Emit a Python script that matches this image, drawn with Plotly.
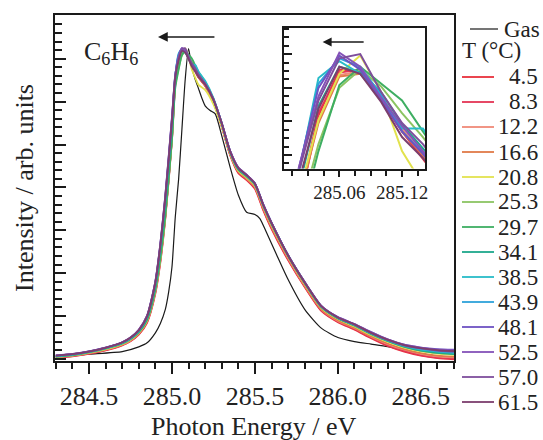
import plotly.graph_objects as go

# ---------------- data ----------------
energy_liquid = [284.30, 284.40, 284.50, 284.60, 284.70, 284.75, 284.80, 284.85, 284.90, 284.93,
                 284.96, 285.00, 285.02, 285.04, 285.06, 285.08, 285.10, 285.12, 285.14, 285.16,
                 285.20, 285.25, 285.30, 285.35, 285.40, 285.45, 285.50, 285.55, 285.60, 285.70,
                 285.80, 285.90, 286.00, 286.10, 286.20, 286.30, 286.40, 286.50, 286.60, 286.70]

energy_gas = [284.30, 284.50, 284.70, 284.80, 284.85, 284.90, 284.93, 284.96, 284.98, 285.00,
              285.02, 285.04, 285.06, 285.08, 285.10, 285.12, 285.14, 285.16, 285.18, 285.20,
              285.23, 285.26, 285.30, 285.35, 285.40, 285.45, 285.50, 285.53, 285.57, 285.63,
              285.70, 285.80, 285.90, 286.00, 286.10, 286.20, 286.30, 286.40, 286.50, 286.60, 286.70]
intensity_gas = [0.014, 0.022, 0.030, 0.045, 0.058, 0.090, 0.120, 0.165, 0.220, 0.300,
                 0.460, 0.580, 0.740, 0.900, 0.998, 0.935, 0.900, 0.870, 0.840, 0.815,
                 0.800, 0.790, 0.720, 0.620, 0.530, 0.475, 0.468, 0.455, 0.410, 0.340,
                 0.260, 0.165, 0.105, 0.075, 0.062, 0.054, 0.046, 0.036, 0.024, 0.016, 0.013]

temperatures = ["4.5", "8.3", "12.2", "16.6", "20.8", "25.3", "29.7",
                "34.1", "38.5", "43.9", "48.1", "52.5", "57.0", "61.5"]
colors = ["#e8303c", "#e43454", "#f08a78", "#e07a48", "#e2e24e", "#8cc462", "#3eae62",
          "#1ea88c", "#28bcc8", "#2ea2da", "#6e52c2", "#8452b8", "#7e4e9c", "#7c3e6e"]

i_4_5 = [0.010, 0.015, 0.023, 0.034, 0.050, 0.063, 0.084, 0.122, 0.215, 0.315, 0.455, 0.705,
         0.885, 0.955, 0.988, 0.986, 0.966, 0.944, 0.925, 0.905,
         0.878, 0.826, 0.748, 0.658, 0.600, 0.578, 0.550, 0.482, 0.422, 0.322,
         0.236, 0.160, 0.124, 0.100, 0.073, 0.048, 0.030, 0.017, 0.009, 0.005]
i_8_3 = [0.011, 0.016, 0.024, 0.035, 0.051, 0.064, 0.086, 0.125, 0.220, 0.320, 0.460, 0.710,
         0.888, 0.957, 0.986, 0.988, 0.968, 0.944, 0.926, 0.906,
         0.880, 0.828, 0.750, 0.660, 0.603, 0.580, 0.553, 0.485, 0.425, 0.325,
         0.238, 0.162, 0.126, 0.102, 0.075, 0.050, 0.032, 0.019, 0.011, 0.008]
i_12_2 = [0.012, 0.017, 0.025, 0.036, 0.052, 0.065, 0.087, 0.127, 0.222, 0.322, 0.462, 0.712,
          0.890, 0.952, 0.984, 0.987, 0.970, 0.946, 0.928, 0.908,
          0.881, 0.830, 0.752, 0.662, 0.605, 0.582, 0.556, 0.488, 0.428, 0.328,
          0.240, 0.165, 0.128, 0.105, 0.078, 0.054, 0.036, 0.023, 0.015, 0.012]
i_16_6 = [0.012, 0.017, 0.026, 0.037, 0.053, 0.066, 0.088, 0.128, 0.225, 0.325, 0.465, 0.715,
          0.892, 0.950, 0.983, 0.985, 0.968, 0.944, 0.927, 0.907,
          0.880, 0.829, 0.752, 0.663, 0.606, 0.583, 0.557, 0.490, 0.430, 0.330,
          0.242, 0.166, 0.130, 0.106, 0.079, 0.056, 0.038, 0.025, 0.017, 0.014]
i_20_8 = [0.013, 0.018, 0.027, 0.038, 0.054, 0.068, 0.090, 0.130, 0.228, 0.330, 0.470, 0.720,
          0.895, 0.952, 0.985, 0.998, 0.972, 0.930, 0.905, 0.882,
          0.866, 0.820, 0.750, 0.664, 0.608, 0.586, 0.560, 0.494, 0.434, 0.333,
          0.246, 0.170, 0.134, 0.110, 0.083, 0.061, 0.043, 0.031, 0.024, 0.020]
i_25_3 = [0.013, 0.018, 0.027, 0.039, 0.055, 0.069, 0.091, 0.130, 0.225, 0.325, 0.463, 0.710,
          0.880, 0.935, 0.975, 0.988, 0.976, 0.957, 0.940, 0.920,
          0.890, 0.835, 0.757, 0.667, 0.610, 0.588, 0.562, 0.496, 0.437, 0.335,
          0.248, 0.172, 0.136, 0.112, 0.085, 0.063, 0.045, 0.033, 0.026, 0.022]
i_29_7 = [0.014, 0.019, 0.028, 0.040, 0.056, 0.070, 0.092, 0.132, 0.228, 0.330, 0.465, 0.705,
          0.872, 0.930, 0.977, 0.990, 0.978, 0.966, 0.944, 0.922,
          0.892, 0.837, 0.758, 0.668, 0.612, 0.590, 0.564, 0.497, 0.438, 0.336,
          0.250, 0.173, 0.137, 0.114, 0.087, 0.065, 0.047, 0.035, 0.028, 0.024]
i_34_1 = [0.015, 0.020, 0.029, 0.041, 0.057, 0.071, 0.094, 0.136, 0.240, 0.352, 0.500, 0.745,
          0.900, 0.962, 0.990, 0.986, 0.972, 0.949, 0.932, 0.913,
          0.888, 0.836, 0.758, 0.668, 0.613, 0.591, 0.565, 0.498, 0.440, 0.337,
          0.250, 0.173, 0.137, 0.114, 0.087, 0.064, 0.046, 0.033, 0.026, 0.022]
i_38_5 = [0.015, 0.021, 0.029, 0.041, 0.058, 0.072, 0.096, 0.140, 0.248, 0.365, 0.515, 0.765,
          0.910, 0.982, 0.994, 0.985, 0.968, 0.946, 0.946, 0.925,
          0.895, 0.840, 0.760, 0.670, 0.615, 0.592, 0.566, 0.499, 0.441, 0.338,
          0.251, 0.174, 0.138, 0.115, 0.088, 0.066, 0.048, 0.036, 0.030, 0.026]
i_43_9 = [0.016, 0.021, 0.030, 0.042, 0.059, 0.073, 0.097, 0.142, 0.250, 0.368, 0.520, 0.770,
          0.912, 0.978, 0.996, 0.990, 0.970, 0.944, 0.929, 0.911,
          0.886, 0.836, 0.760, 0.671, 0.616, 0.593, 0.567, 0.500, 0.442, 0.338,
          0.252, 0.175, 0.139, 0.116, 0.089, 0.067, 0.050, 0.039, 0.032, 0.028]
i_48_1 = [0.017, 0.022, 0.031, 0.043, 0.060, 0.074, 0.099, 0.144, 0.253, 0.372, 0.525, 0.775,
          0.914, 0.975, 0.998, 0.988, 0.966, 0.944, 0.928, 0.910,
          0.884, 0.835, 0.760, 0.672, 0.618, 0.595, 0.568, 0.500, 0.442, 0.338,
          0.252, 0.176, 0.140, 0.118, 0.092, 0.069, 0.052, 0.043, 0.038, 0.036]
i_52_5 = [0.018, 0.023, 0.031, 0.043, 0.060, 0.075, 0.100, 0.145, 0.255, 0.375, 0.530, 0.780,
          0.915, 0.969, 1.000, 0.990, 0.968, 0.948, 0.930, 0.912,
          0.885, 0.835, 0.760, 0.672, 0.618, 0.595, 0.568, 0.500, 0.442, 0.338,
          0.252, 0.176, 0.140, 0.118, 0.092, 0.069, 0.052, 0.043, 0.036, 0.034]
i_57_0 = [0.017, 0.022, 0.031, 0.043, 0.060, 0.075, 0.100, 0.145, 0.254, 0.374, 0.528, 0.775,
          0.912, 0.966, 0.996, 0.999, 0.972, 0.950, 0.935, 0.915,
          0.886, 0.836, 0.760, 0.671, 0.617, 0.594, 0.567, 0.500, 0.441, 0.337,
          0.251, 0.175, 0.139, 0.116, 0.090, 0.067, 0.050, 0.040, 0.033, 0.030]
i_61_5 = [0.017, 0.022, 0.030, 0.042, 0.059, 0.074, 0.098, 0.142, 0.250, 0.368, 0.520, 0.765,
          0.905, 0.960, 0.990, 0.985, 0.965, 0.940, 0.925, 0.908,
          0.883, 0.834, 0.759, 0.670, 0.616, 0.593, 0.566, 0.499, 0.440, 0.337,
          0.251, 0.175, 0.139, 0.117, 0.090, 0.068, 0.051, 0.041, 0.035, 0.032]

liquid_series = [i_4_5, i_8_3, i_12_2, i_16_6, i_20_8, i_25_3, i_29_7,
                 i_34_1, i_38_5, i_43_9, i_48_1, i_52_5, i_57_0, i_61_5]

main_x_ticks = [284.5, 285.0, 285.5, 286.0, 286.5]
inset_x_ticks = [285.06, 285.12]

# ---------------- layout helpers ----------------
W, H = 543, 440
L, R, T, B = 55, 454, 15, 361          # plot area in pixels
FONT = "Liberation Serif"
TXT = "#222222"
LEG = 23                                # legend font size


def px_x(p):
    return (p - L) / (R - L)


def px_y(p):
    return (B - p) / (B - T)


fig = go.Figure()

# main traces
fig.add_trace(go.Scatter(x=energy_gas, y=intensity_gas, mode="lines",
                         line=dict(color="#1a1a1a", width=1.2, shape="spline", smoothing=0.6),
                         showlegend=False, hoverinfo="skip"))
for vals, col in zip(liquid_series, colors):
    fig.add_trace(go.Scatter(x=energy_liquid, y=vals, mode="lines",
                             line=dict(color=col, width=1.8, shape="spline", smoothing=0.6),
                             showlegend=False, hoverinfo="skip"))
# inset traces
for vals, col in zip(liquid_series, colors):
    fig.add_trace(go.Scatter(x=energy_liquid, y=vals, mode="lines", xaxis="x2", yaxis="y2",
                             line=dict(color=col, width=2.0),
                             showlegend=False, hoverinfo="skip"))

axis_common = dict(showgrid=False, zeroline=False, showline=True, linecolor="#1a1a1a",
                   linewidth=2, mirror=True)

y_major = 0.1369
y_tick0 = 0.0069
ins_top, ins_bot = 1.0176, 0.9176

fig.update_layout(
    width=W, height=H,
    margin=dict(l=L, r=W - R, t=T, b=H - B, pad=0),
    paper_bgcolor="white", plot_bgcolor="white",
    font=dict(family=FONT, size=26, color=TXT),
    showlegend=False,
    xaxis=dict(domain=[0, 1], range=[284.295, 286.70], **axis_common,
               tickmode="array", tickvals=main_x_ticks,
               ticktext=[f"{v:.1f}" for v in main_x_ticks],
               ticks="outside", ticklen=11, tickwidth=2, tickcolor="#1a1a1a",
               tickfont=dict(family=FONT, size=26, color=TXT),
               minor=dict(dtick=0.1, tick0=284.3, ticks="outside", ticklen=6,
                          tickwidth=1.6, tickcolor="#1a1a1a")),
    yaxis=dict(domain=[0, 1], range=[0, 1.105], **axis_common,
               showticklabels=False, tickmode="linear", tick0=y_tick0, dtick=y_major,
               ticks="inside", ticklen=11, tickwidth=2, tickcolor="#1a1a1a",
               minor=dict(dtick=y_major / 5, tick0=y_tick0, ticks="inside", ticklen=7,
                          tickwidth=1.6, tickcolor="#1a1a1a")),
    xaxis2=dict(domain=[px_x(284), px_x(425)], range=[285.007, 285.142], anchor="y2",
                **axis_common,
                tickmode="array", tickvals=inset_x_ticks,
                ticktext=[f"{v:.2f}" for v in inset_x_ticks],
                ticks="outside", ticklen=6, tickwidth=2, tickcolor="#1a1a1a",
                tickfont=dict(family=FONT, size=19, color=TXT),
                minor=dict(dtick=0.015, tick0=285.015, ticks="outside", ticklen=5,
                           tickwidth=1.6, tickcolor="#1a1a1a")),
    yaxis2=dict(domain=[px_y(168.5), px_y(28)], range=[ins_bot, ins_top], anchor="x2",
                **axis_common, showticklabels=False,
                tickmode="linear", tick0=0.9272, dtick=0.0239,
                ticks="inside", ticklen=8, tickwidth=2, tickcolor="#1a1a1a",
                minor=dict(dtick=0.0239 / 4, tick0=0.9272, ticks="inside", ticklen=5,
                           tickwidth=1.6, tickcolor="#1a1a1a")),
)

annotations = []
shapes = []

# axis titles
annotations.append(dict(text="Photon Energy / eV", xref="paper", yref="paper",
                        x=px_x(254), y=px_y(426), xanchor="center", yanchor="middle",
                        showarrow=False, font=dict(family=FONT, size=26, color=TXT)))
annotations.append(dict(text="Intensity / arb. units", xref="paper", yref="paper",
                        x=px_x(24), y=px_y(188), xanchor="center", yanchor="middle",
                        textangle=-90, showarrow=False,
                        font=dict(family=FONT, size=26, color=TXT)))
# molecule label
annotations.append(dict(text="C<sub>6</sub>H<sub>6</sub>", xref="paper", yref="paper",
                        x=px_x(82), y=px_y(53), xanchor="left", yanchor="middle",
                        showarrow=False, font=dict(family=FONT, size=26, color=TXT)))
# arrows
annotations.append(dict(x=284.916, y=1.035, ax=285.265, ay=1.035, xref="x", yref="y",
                        axref="x", ayref="y", text="", showarrow=True, arrowhead=2,
                        arrowsize=1.3, arrowwidth=1.5, arrowcolor="#1a1a1a", standoff=0))
annotations.append(dict(x=285.044, y=1.0076, ax=285.0847, ay=1.0076, xref="x2", yref="y2",
                        axref="x2", ayref="y2", text="", showarrow=True, arrowhead=2,
                        arrowsize=1.2, arrowwidth=1.5, arrowcolor="#1a1a1a", standoff=0))

# manual legend
shapes.append(dict(type="line", xref="paper", yref="paper", x0=px_x(470), x1=px_x(498),
                   y0=px_y(29), y1=px_y(29), line=dict(color="#1a1a1a", width=1.2)))
annotations.append(dict(text="Gas", xref="paper", yref="paper", x=px_x(502), y=px_y(29),
                        xanchor="left", yanchor="middle", showarrow=False,
                        font=dict(family=FONT, size=LEG, color=TXT)))
annotations.append(dict(text="T (°C)", xref="paper", yref="paper", x=px_x(460), y=px_y(51),
                        xanchor="left", yanchor="middle", showarrow=False,
                        font=dict(family=FONT, size=LEG, color=TXT)))
for k, (lab, col) in enumerate(zip(temperatures, colors)):
    yy = px_y(77 + 25 * k)
    shapes.append(dict(type="line", xref="paper", yref="paper", x0=px_x(462), x1=px_x(494),
                       y0=yy, y1=yy, line=dict(color=col, width=1.8)))
    annotations.append(dict(text=lab, xref="paper", yref="paper", x=px_x(540), y=yy,
                            xanchor="right", yanchor="middle", showarrow=False,
                            font=dict(family=FONT, size=LEG, color=TXT)))

fig.update_layout(annotations=annotations, shapes=shapes)

fig.write_html("out.html")
